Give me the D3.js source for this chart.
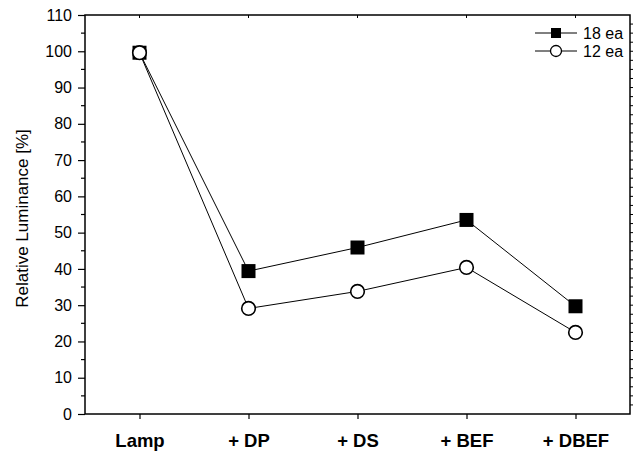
<!DOCTYPE html>
<html><head><meta charset="utf-8">
<script src="https://cdn.jsdelivr.net/npm/d3@7"></script>
<style>body{margin:0;background:#fff}svg{display:block}text{font-family:"Liberation Sans",Arial,sans-serif}</style>
</head><body><svg id="c" width="633" height="452"></svg>
<script>
const categories = ["Lamp", "+ DP", "+ DS", "+ BEF", "+ DBEF"];
const series18 = [99.6, 39.4, 45.9, 53.5, 29.7];
const series12 = [99.6, 29.1, 33.8, 40.4, 22.5];
const seriesNames = ["18 ea", "12 ea"];
const yTicks = [0,10,20,30,40,50,60,70,80,90,100,110];

const svg = d3.select("#c");
const L = 85, R = 630, T = 15, B = 414;
const x = d3.scaleLinear().domain([0.5, 5.5]).range([L, R]);
const y = d3.scaleLinear().domain([0, 110]).range([B, T]);
const idx = categories.map((c,i)=>i+1);

// frame
svg.append("rect").attr("x",L).attr("y",T).attr("width",R-L).attr("height",B-T)
  .attr("fill","none").attr("stroke","#000").attr("stroke-width",1.5);

// left axis
const yAxis = d3.axisLeft(y).tickValues(yTicks).tickSize(7).tickPadding(6).tickFormat(d3.format("d"));
const gy = svg.append("g").attr("transform",`translate(${L},0)`).call(yAxis);
gy.select(".domain").remove();
gy.selectAll("text").attr("font-size",16).attr("fill","#000");
gy.selectAll("line").attr("stroke-width",1.2);
const minor = d3.range(5,110,10);
svg.append("g").selectAll("line").data(minor).join("line")
  .attr("x1",L-4).attr("x2",L).attr("y1",d=>y(d)).attr("y2",d=>y(d)).attr("stroke","#000").attr("stroke-width",1.2);

// right axis ticks
const rTicks = d3.range(2.5,110,2.5);
svg.append("g").selectAll("line").data(rTicks).join("line")
  .attr("x1",R).attr("x2",R+3).attr("y1",d=>y(d)).attr("y2",d=>y(d)).attr("stroke","#000").attr("stroke-width",1);

// bottom axis
const xAxis = d3.axisBottom(x).tickValues(idx).tickSize(5).tickPadding(15).tickFormat(d=>categories[d-1]);
const gx = svg.append("g").attr("transform",`translate(0,${B})`).call(xAxis);
gx.select(".domain").remove();
gx.selectAll("text").attr("font-size",18.5).attr("font-weight","bold").attr("fill","#000");
gx.selectAll("line").attr("stroke-width",1.2);

// top ticks inward
svg.append("g").selectAll("line").data(idx).join("line")
  .attr("x1",d=>x(d)).attr("x2",d=>x(d)).attr("y1",T).attr("y2",T+3).attr("stroke","#000").attr("stroke-width",1);

// y label
svg.append("text").attr("transform",`translate(28,${(T+B)/2+4}) rotate(-90)`).attr("text-anchor","middle")
  .attr("font-size",17).text("Relative Luminance [%]");

const line = d3.line().x((d,i)=>x(i+1)).y(d=>y(d));
[series18, series12].forEach(s=>{
  svg.append("path").datum(s).attr("d",line).attr("fill","none").attr("stroke","#000").attr("stroke-width",1);
});
// 18 ea squares
svg.append("g").selectAll("rect").data(series18).join("rect")
  .attr("x",(d,i)=>x(i+1)-7).attr("y",d=>y(d)-7).attr("width",14).attr("height",14).attr("fill","#000");
// 12 ea circles
svg.append("g").selectAll("circle").data(series12).join("circle")
  .attr("cx",(d,i)=>x(i+1)).attr("cy",d=>y(d)).attr("r",6.8).attr("fill","#fff").attr("stroke","#000").attr("stroke-width",1.6);

// legend
const lg = svg.append("g");
const ly = [33, 51];
lg.append("line").attr("x1",535).attr("x2",577).attr("y1",ly[0]).attr("y2",ly[0]).attr("stroke","#000");
lg.append("rect").attr("x",556-5).attr("y",ly[0]-5).attr("width",10).attr("height",10).attr("fill","#000");
lg.append("line").attr("x1",535).attr("x2",577).attr("y1",ly[1]).attr("y2",ly[1]).attr("stroke","#000");
lg.append("circle").attr("cx",556).attr("cy",ly[1]).attr("r",5.5).attr("fill","#fff").attr("stroke","#000").attr("stroke-width",1.3);
seriesNames.forEach((n,i)=>{
  lg.append("text").attr("x",583).attr("y",ly[i]+5.5).attr("font-size",16).text(n);
});
</script></body></html>
